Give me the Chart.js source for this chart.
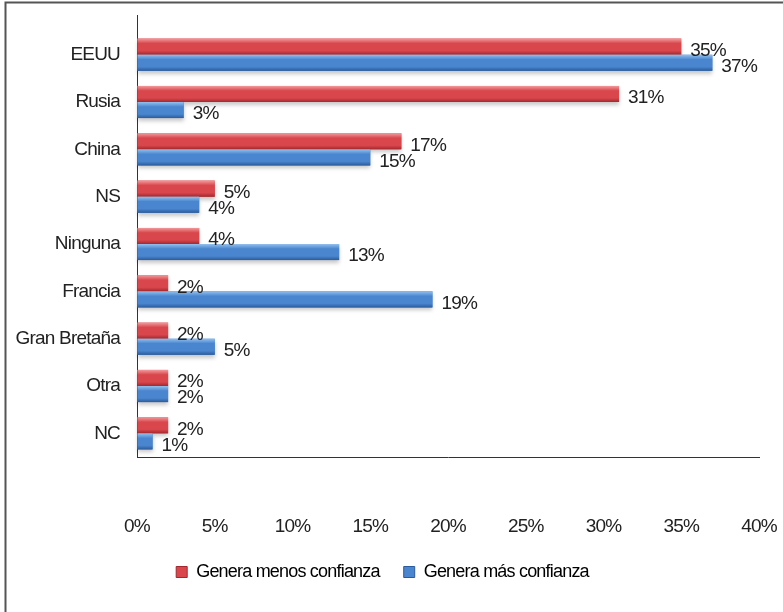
<!DOCTYPE html>
<html>
<head>
<meta charset="utf-8">
<script src="https://cdn.jsdelivr.net/npm/chart.js@4/dist/chart.umd.min.js"></script>
<style>
  html, body { margin: 0; padding: 0; background: #fff; }
  #wrap { width: 783px; height: 612px; position: relative; }
</style>
</head>
<body>
<div id="wrap"><canvas id="chart" width="783" height="612"></canvas></div>
<script>
const categories = ['EEUU', 'Rusia', 'China', 'NS', 'Ninguna', 'Francia', 'Gran Bretaña', 'Otra', 'NC']
const menosConfianza = [35, 31, 17, 5, 4, 2, 2, 2, 2]
const masConfianza = [37, 3, 15, 4, 13, 19, 5, 2, 1]
const seriesNames = ['Genera menos confianza', 'Genera más confianza']
const xTicks = [0, 5, 10, 15, 20, 25, 30, 35, 40]

const FONT = '"Liberation Sans", Arial, sans-serif'
const SPACING = '-0.8px'
const fontSpec = size => ({ family: FONT, size: size })

// shading for the shiny bars: light top, main middle, dark bottom
const shades = [
  ['#f29a9c', '#d9474d', '#a3282d'],
  ['#93c0ee', '#4a86cf', '#2b5b9c']
]

const frame = {
  id: 'frame',
  beforeLayout(chart) {
    // the original uses a narrow face, tighten the text a bit
    chart.ctx.letterSpacing = SPACING
  },
  beforeDraw(chart) {
    const c = chart.ctx
    c.letterSpacing = SPACING
    c.save()
    c.fillStyle = '#fff'
    c.fillRect(0, 0, chart.width, chart.height)
    c.strokeStyle = '#555'
    c.lineWidth = 2
    c.beginPath()
    c.moveTo(5.5, chart.height)
    c.lineTo(5.5, 2.5)
    c.lineTo(chart.width, 2.5)
    c.stroke()
    c.restore()
  },
  afterDraw(chart) {
    // axis line runs a bit above the first category
    const c = chart.ctx
    const a = chart.chartArea
    c.save()
    c.strokeStyle = '#333'
    c.lineWidth = 1
    c.beginPath()
    c.moveTo(Math.round(a.left) + 0.5, 15)
    c.lineTo(Math.round(a.left) + 0.5, a.top)
    c.stroke()
    c.restore()
  }
}

const shinyBars = {
  id: 'shinyBars',
  afterDatasetsDraw(chart) {
    const c = chart.ctx
    chart.data.datasets.forEach((ds, di) => {
      const meta = chart.getDatasetMeta(di)
      const s = shades[di]
      meta.data.forEach((bar, i) => {
        const top = bar.y - bar.height / 2
        const bot = bar.y + bar.height / 2
        const g = c.createLinearGradient(0, top, 0, bot)
        g.addColorStop(0, s[0])
        g.addColorStop(0.3, s[1])
        g.addColorStop(0.75, s[1])
        g.addColorStop(1, s[2])
        c.save()
        c.shadowColor = 'rgba(0,0,0,0.22)'
        c.shadowBlur = 4
        c.shadowOffsetY = 3
        c.fillStyle = g
        c.fillRect(bar.base, top, bar.x - bar.base, bar.height)
        c.restore()
      })
    })
    // value labels
    c.save()
    c.font = '19px ' + FONT
    c.fillStyle = '#222'
    c.textAlign = 'left'
    c.textBaseline = 'middle'
    chart.data.datasets.forEach((ds, di) => {
      const meta = chart.getDatasetMeta(di)
      meta.data.forEach((bar, i) => {
        c.fillText(ds.data[i] + '%', bar.x + 9, bar.y + 4)
      })
    })
    c.restore()
  }
}

new Chart(document.getElementById('chart'), {
  type: 'bar',
  data: {
    labels: categories,
    datasets: [
      {
        label: seriesNames[0],
        data: menosConfianza,
        backgroundColor: shades[0][1],
        borderWidth: 0,
        categoryPercentage: 0.68,
        barPercentage: 1.0
      },
      {
        label: seriesNames[1],
        data: masConfianza,
        backgroundColor: shades[1][1],
        borderWidth: 0,
        categoryPercentage: 0.68,
        barPercentage: 1.0
      }
    ]
  },
  options: {
    indexAxis: 'y',
    responsive: false,
    animation: false,
    layout: {
      padding: { left: 6, right: 24, top: 31, bottom: 21 }
    },
    plugins: {
      legend: {
        position: 'bottom',
        labels: {
          color: '#222',
          font: fontSpec(18),
          boxWidth: 11,
          boxHeight: 11,
          padding: 24,
          generateLabels(chart) {
            return chart.data.datasets.map((ds, i) => ({
              text: ds.label,
              fillStyle: shades[i][1],
              strokeStyle: shades[i][2],
              lineWidth: 1,
              datasetIndex: i
            }))
          }
        }
      },
      tooltip: { enabled: false }
    },
    scales: {
      x: {
        min: 0,
        max: 40,
        afterBuildTicks(scale) {
          scale.ticks = xTicks.map(v => ({ value: v }))
        },
        afterFit(scale) {
          scale.height = 82
        },
        // invisible tick marks push the labels well below the axis
        grid: {
          display: true,
          drawOnChartArea: false,
          drawTicks: true,
          tickLength: 58,
          color: 'rgba(0,0,0,0)'
        },
        border: { display: true, color: '#333', width: 1 },
        ticks: {
          color: '#222',
          font: fontSpec(19),
          padding: 0,
          callback: v => v + '%'
        }
      },
      y: {
        afterFit(scale) {
          scale.width = 131
        },
        grid: { display: false, drawTicks: false },
        border: { display: true, color: '#333', width: 1 },
        ticks: {
          color: '#222',
          font: fontSpec(19),
          padding: 17
        }
      }
    }
  },
  plugins: [frame, shinyBars]
})
</script>
</body>
</html>
